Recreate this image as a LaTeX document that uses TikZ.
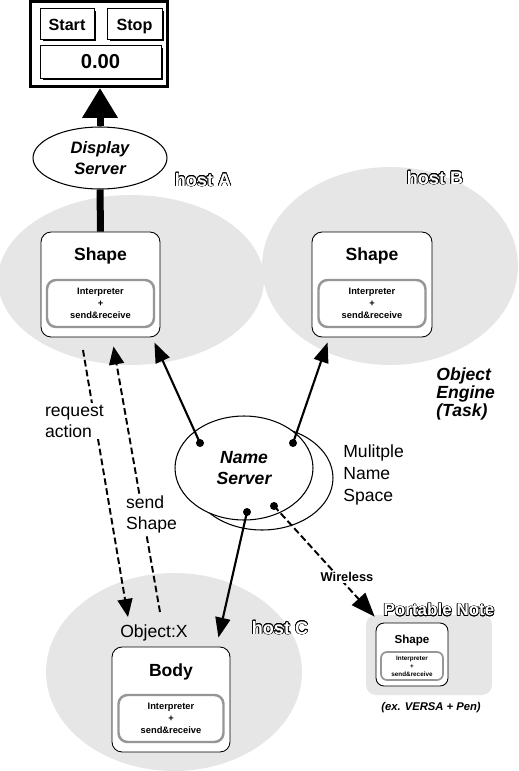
\documentclass[tikz,border=0pt]{standalone}
\usepackage{fontspec}
\setmainfont{Liberation Sans}
\usepackage{xcolor}
\usepackage{contour}
\contourlength{0.35pt}
\definecolor{hostgray}{RGB}{230,230,230}
\definecolor{rimgray}{RGB}{150,150,150}
\usepackage{tikz}
\usetikzlibrary{arrows.meta, positioning, shapes.geometric, shadows}

\tikzset{
  hostzone/.style={ellipse, fill=hostgray, inner sep=0pt},
  hostlabel/.style={font=\fontsize{10.3}{12}\selectfont\bfseries, text=white},
  objbox/.style={draw, fill=white, rounded corners=0.2cm, line width=0.5pt, inner sep=0pt},
  objtitle/.style={font=\fontsize{10}{12}\selectfont\bfseries},
  engine/.style={draw=rimgray, line width=1.4pt, fill=white, rounded corners=0.18cm, inner sep=0pt, align=center, font=\fontsize{5.3}{6.8}\selectfont\bfseries},
  button/.style={draw, fill=white, line width=0.5pt, inner sep=0pt, text height=1.6ex, text depth=0pt, drop shadow={shadow xshift=0.05cm, shadow yshift=-0.05cm, fill=black, opacity=1}},
  server/.style={ellipse, draw, fill=white, line width=0.6pt, inner sep=0pt, align=center, font=\fontsize{10}{12}\selectfont\bfseries\itshape},
  dot/.style={circle, fill=black, inner sep=0pt, minimum size=0.16cm},
  bigarrow/.style={line width=0.14cm, -{Triangle[length=0.6cm, width=0.68cm]}},
  link/.style={line width=1.2pt, -{Triangle[length=0.4cm, width=0.3cm]}},
  msg/.style={line width=1.1pt, dash pattern=on 3.8pt off 1.9pt, -{Triangle[length=0.36cm, width=0.3cm]}},
  note/.style={font=\fontsize{10}{12}\selectfont, align=left, fill=white, inner sep=1pt},
}

\begin{document}
\begin{tikzpicture}[x=0.02cm, y=-0.02cm]
  \useasboundingbox (0,0) rectangle (519,771);

  % Hosts
  \node[hostzone, minimum width=5.32cm, minimum height=3.4cm] (hostA) at (131,280) {};
  \node[hostzone, minimum width=5.12cm, minimum height=3.96cm] (hostB) at (390,266) {};
  \node[hostzone, minimum width=5.12cm, minimum height=3.96cm] (hostC) at (174,672) {};
  \node[hostlabel] (hostAlabel) at (203,180) {\contour{black}{host A}};
  \node[hostlabel] (hostBlabel) at (435,178) {\contour{black}{host B}};
  \node[hostlabel] (hostClabel) at (280,628) {\contour{black}{host C}};

  % Display panel
  \node[draw, line width=1.7pt, minimum width=2.76cm, minimum height=1.7cm, inner sep=0pt] (panel) at (99,44) {};
  \node[button, minimum width=1.08cm, minimum height=0.62cm, font=\fontsize{9.2}{11}\selectfont\bfseries] (startbtn) at (67,23.5) {Start};
  \node[button, minimum width=1.1cm, minimum height=0.62cm, font=\fontsize{9.2}{11}\selectfont\bfseries] (stopbtn) at (134.5,23.5) {Stop};
  \node[button, minimum width=2.42cm, minimum height=0.66cm, font=\fontsize{11.5}{13}\selectfont\bfseries] (readout) at (100.5,61.5) {0.00};

  % Display server
  \node[server, minimum width=2.68cm, minimum height=1.24cm, font=\fontsize{9.4}{12}\selectfont\bfseries\itshape] (dispserver) at (100,158) {Display\\Server};
  \draw[bigarrow] (dispserver.north) -- (dispserver.north |- panel.south);

  % Shape on host A
  \node[objbox, minimum width=2.38cm, minimum height=2.1cm] (shapeA) at (100.5,284.5) {};
  \node[objtitle] (shapeAtitle) at ([yshift=-0.49cm]shapeA.north) {Shape};
  \node[engine, minimum width=2.14cm, minimum height=0.94cm] (engineA) at ([yshift=-0.38cm]shapeA.center) {Interpreter\\+\\send\&receive};
  \draw[line width=0.14cm] (shapeA.north) -- (dispserver.south);

  % Shape on host B
  \node[objbox, minimum width=2.4cm, minimum height=2.1cm] (shapeB) at (372,284.5) {};
  \node[objtitle] (shapeBtitle) at ([yshift=-0.49cm]shapeB.north) {Shape};
  \node[engine, minimum width=2.14cm, minimum height=0.94cm] (engineB) at ([yshift=-0.38cm]shapeB.center) {Interpreter\\+\\send\&receive};
  \node[font=\fontsize{10}{10.5}\selectfont\bfseries\itshape, align=left, anchor=west, inner sep=0pt] (enginelabel) at (436,394) {Object\\Engine\\(Task)};

  % Body on host C
  \node[font=\fontsize{10}{12}\selectfont] (objx) at (154,633) {Object:X};
  \node[objbox, minimum width=2.36cm, minimum height=2.1cm] (body) at (171,699.5) {};
  \node[objtitle] (bodytitle) at ([yshift=-0.5cm]body.north) {Body};
  \node[engine, minimum width=2.1cm, minimum height=0.94cm] (engineC) at ([yshift=-0.38cm]body.center) {Interpreter\\+\\send\&receive};

  % Portable note
  \node[fill=hostgray, rounded corners=0.2cm, minimum width=2.52cm, minimum height=1.6cm, inner sep=0pt] (pnote) at (429,655) {};
  \node[hostlabel, font=\fontsize{9.7}{11}\selectfont\bfseries] (pnotelabel) at (439,610) {\contour{black}{Portable Note}};
  \node[objbox, rounded corners=0.16cm, minimum width=1.44cm, minimum height=1.26cm] (shapeP) at (412,654.5) {};
  \node[objtitle, font=\fontsize{6.6}{8}\selectfont\bfseries] (shapePtitle) at ([yshift=-0.35cm]shapeP.north) {Shape};
  \node[engine, line width=1pt, rounded corners=0.12cm, minimum width=1.24cm, minimum height=0.56cm, font=\fontsize{3.6}{4.6}\selectfont\bfseries] (engineP) at ([yshift=-0.23cm]shapeP.center) {Interpreter\\+\\send\&receive};
  \node[font=\fontsize{6.4}{7.5}\selectfont\bfseries\itshape] (versa) at (431,708) {(ex. VERSA + Pen)};

  % Name server
  \node[server, minimum width=2.84cm, minimum height=2.08cm] (namespace) at (262,478) {};
  \node[server, minimum width=2.76cm, minimum height=2.08cm] (nameserver) at (244,468) {Name\\Server};
  \node[font=\fontsize{10}{12.5}\selectfont, align=left, anchor=west, inner sep=0pt] (spacelabel) at (343,475) {Mulitple\\Name\\Space};
  \node[dot] (d1) at (200,443) {};
  \node[dot] (d2) at (293,443) {};
  \node[dot] (d3) at (247,512) {};
  \node[dot] (d4) at (274,506) {};
  \draw[link] (d1.center) -- ([shift={(-6,5)}]shapeA.south east);
  \draw[link] (d2.center) -- ([shift={(16,5)}]shapeB.south west);
  \draw[link] (d3.center) -- ([shift={(-12,-9)}]body.north east);

  % Messages
  \coordinate (reqfrom) at (83,350);
  \coordinate (reqto) at (128,617);
  \draw[msg] (reqfrom) -- (reqto);
  \node[note, anchor=west] (reqlabel) at (43,421) {request\\action};
  \coordinate (sendfrom) at (160,612);
  \draw[msg] (sendfrom) -- ([shift={(13,9)}]shapeA.south);
  \node[note, anchor=west] (sendlabel) at (124,514) {send\\Shape};
  \draw[msg, -{Triangle[length=0.48cm, width=0.36cm]}] (d4.center) -- ([shift={(9,2)}]pnote.north west);
  \node[font=\fontsize{7.3}{9}\selectfont\bfseries, fill=white, inner sep=1pt] (wireless) at (347,577) {Wireless};
\end{tikzpicture}
\end{document}
